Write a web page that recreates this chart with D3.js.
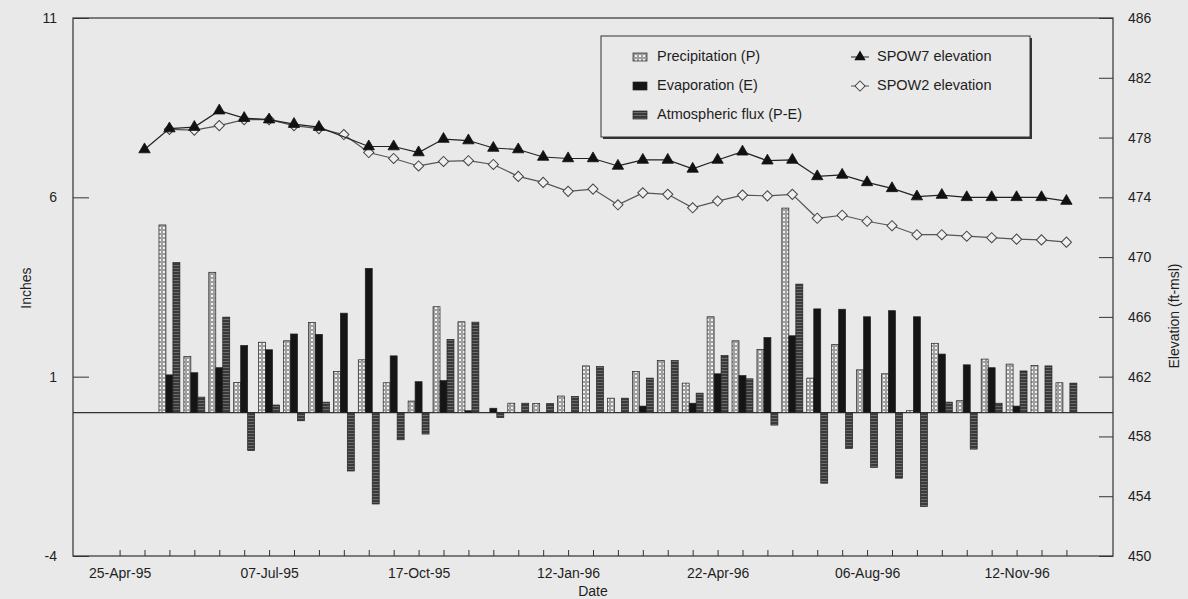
<!DOCTYPE html>
<html>
<head>
<meta charset="utf-8">
<script src="https://cdn.jsdelivr.net/npm/d3@7"></script>
<style>
  html, body { margin: 0; padding: 0; background: #e9e9e9; }
  svg { display: block; }
  text { font-family: "Liberation Sans", Arial, sans-serif; fill: #1e1e1e; }
</style>
</head>
<body>
<svg id="chart" width="1188" height="599"></svg>
<script>
// ---------------- data ----------------
const categories = [
  "25-Apr-95","","","","","",
  "07-Jul-95","","","","","",
  "17-Oct-95","","","","","",
  "12-Jan-96","","","","","",
  "22-Apr-96","","","","","",
  "06-Aug-96","","","","","",
  "12-Nov-96","",""
];
const precipitation = [null, 0, 5.23, 1.56, 3.91, 0.84, 1.96, 2.0, 2.51, 1.14, 1.47, 0.83, 0.32, 2.95, 2.53, 0, 0.26, 0.25, 0.46, 1.30, 0.40, 1.14, 1.45, 0.82, 2.67, 2.0, 1.76, 5.70, 0.96, 1.90, 1.19, 1.08, 0.05, 1.93, 0.33, 1.49, 1.35, 1.31, 0.83];
const evaporation   = [null, 0, 1.05, 1.11, 1.25, 1.87, 1.75, 2.19, 2.18, 2.77, 4.02, 1.58, 0.86, 0.89, 0.05, 0.12, 0, 0, 0, 0, 0, 0.18, 0, 0.26, 1.08, 1.03, 2.09, 2.14, 2.89, 2.88, 2.67, 2.84, 2.67, 1.63, 1.33, 1.25, 0.18, 0, 0];
const atmosphericFlux = [null, 0, 4.18, 0.43, 2.66, -1.06, 0.21, -0.23, 0.29, -1.63, -2.55, -0.76, -0.6, 2.04, 2.52, -0.14, 0.26, 0.25, 0.45, 1.28, 0.40, 0.96, 1.45, 0.54, 1.59, 0.94, -0.35, 3.58, -1.97, -1.0, -1.53, -1.83, -2.62, 0.29, -1.02, 0.26, 1.16, 1.30, 0.82];
const spow7 = [null, 477.2, 478.6, 478.7, 479.8, 479.3, 479.2, 478.9, 478.7, null, 477.4, 477.4, 477.0, 477.9, 477.8, 477.3, 477.2, 476.7, 476.6, 476.6, 476.1, 476.5, 476.5, 475.9, 476.5, 477.05, 476.45, 476.5, 475.4, 475.5, 475.0, 474.6, 474.05, 474.15, 474.0, 474.0, 474.0, 474.0, 473.75];
const spow2 = [null, null, 478.55, 478.5, 478.8, 479.2, 479.2, 478.8, 478.6, 478.2, 477.0, 476.6, 476.1, 476.4, 476.45, 476.2, 475.4, 475.0, 474.4, 474.55, 473.5, 474.3, 474.2, 473.3, 473.75, 474.15, 474.1, 474.2, 472.6, 472.8, 472.4, 472.1, 471.5, 471.5, 471.4, 471.3, 471.2, 471.15, 471.0];
const inchTicks = [-4, 1, 6, 11];
const elevationTicks = [450, 454, 458, 462, 466, 470, 474, 478, 482, 486];
const barSeries = ["Precipitation (P)", "Evaporation (E)", "Atmospheric flux (P-E)"];
const lineSeries = ["SPOW7 elevation", "SPOW2 elevation"];

// ---------------- layout ----------------
const L = 73, R = 1113, T = 18, B = 556;
const svg = d3.select("#chart");

const defs = svg.append("defs");
const pP = defs.append("pattern").attr("id", "patP").attr("patternUnits", "userSpaceOnUse")
  .attr("width", 4).attr("height", 4);
pP.append("rect").attr("width", 4).attr("height", 4).attr("fill", "#f2f2f2");
pP.append("circle").attr("cx", 2).attr("cy", 2).attr("r", 1.3).attr("fill", "none")
  .attr("stroke", "#5a5a5a").attr("stroke-width", 0.9);
const pF = defs.append("pattern").attr("id", "patF").attr("patternUnits", "userSpaceOnUse")
  .attr("width", 4).attr("height", 3);
pF.append("rect").attr("width", 4).attr("height", 3).attr("fill", "#3a3a3a");
pF.append("rect").attr("y", 1).attr("width", 4).attr("height", 1).attr("fill", "#6c6c6c");

const idx = d3.range(categories.length);
const x = d3.scalePoint().domain(idx).range([L, R]).padding(1.87);
const step = x.step();
const sub = d3.scaleBand().domain([0, 1, 2]).range([-step * 0.42, step * 0.42]);
const yL = d3.scaleLinear().domain([-4, 11]).range([B, T]);
const yR = d3.scaleLinear().domain([450, 486]).range([B, T]);

// frame
svg.append("rect").attr("x", L).attr("y", T).attr("width", R - L).attr("height", B - T)
  .attr("fill", "none").attr("stroke", "#333").attr("stroke-width", 1.2);

// axes
const axB = svg.append("g").attr("transform", `translate(0,${B})`)
  .call(d3.axisBottom(x).tickSizeInner(-6).tickSizeOuter(0).tickPadding(12)
    .tickFormat(i => categories[i]));
const axLft = svg.append("g").attr("transform", `translate(${L},0)`)
  .call(d3.axisLeft(yL).tickValues(inchTicks).tickSizeInner(-16).tickSizeOuter(0).tickPadding(16)
    .tickFormat(d => String(d)));
const axRgt = svg.append("g").attr("transform", `translate(${R},0)`)
  .call(d3.axisRight(yR).tickValues(elevationTicks).tickSizeInner(-14).tickSizeOuter(0).tickPadding(15)
    .tickFormat(d => String(d)));
[axB, axLft, axRgt].forEach(g => {
  g.select(".domain").remove();
  g.selectAll(".tick line").attr("stroke", "#333");
  g.selectAll(".tick text").style("font-family", "'Liberation Sans', Arial, sans-serif")
    .style("font-size", "14px").attr("fill", "#1e1e1e");
});

// zero line
svg.append("line").attr("x1", L).attr("x2", R).attr("y1", yL(0)).attr("y2", yL(0))
  .attr("stroke", "#333").attr("stroke-width", 1.3);

// bars
const barDefs = [
  { vals: precipitation, fill: "url(#patP)" },
  { vals: evaporation, fill: "#151515" },
  { vals: atmosphericFlux, fill: "url(#patF)" }
];
barDefs.forEach((s, k) => {
  svg.append("g").selectAll("rect")
    .data(idx.filter(i => s.vals[i] != null && s.vals[i] !== 0))
    .join("rect")
    .attr("x", i => x(i) + sub(k))
    .attr("width", sub.bandwidth())
    .attr("y", i => yL(Math.max(0, s.vals[i])))
    .attr("height", i => Math.abs(yL(s.vals[i]) - yL(0)))
    .attr("fill", s.fill)
    .attr("stroke", "#222").attr("stroke-width", 0.7);
});

// lines
function drawLine(vals, color, width) {
  const pts = idx.filter(i => vals[i] != null);
  svg.append("path").datum(pts)
    .attr("d", d3.line().x(i => x(i)).y(i => yR(vals[i])))
    .attr("fill", "none").attr("stroke", color).attr("stroke-width", width);
  return pts;
}
const p2 = drawLine(spow2, "#555", 1.2);
svg.append("g").selectAll("path").data(p2).join("path")
  .attr("d", d3.symbol(d3.symbolSquare, 52)())
  .attr("transform", i => `translate(${x(i)},${yR(spow2[i])}) rotate(45)`)
  .attr("fill", "#efefef").attr("stroke", "#444").attr("stroke-width", 1);
const p7 = drawLine(spow7, "#222", 1.2);
svg.append("g").selectAll("path").data(p7).join("path")
  .attr("d", d3.symbol(d3.symbolTriangle, 56)())
  .attr("transform", i => `translate(${x(i)},${yR(spow7[i])})`)
  .attr("fill", "#111").attr("stroke", "#111").attr("stroke-width", 0.8);

// axis titles
svg.append("text").attr("transform", "translate(27,288) rotate(-90)")
  .attr("text-anchor", "middle").attr("dominant-baseline", "middle")
  .style("font-size", "14px").text("Inches");
svg.append("text").attr("transform", "translate(1175,316) rotate(-90)")
  .attr("text-anchor", "middle").attr("dominant-baseline", "middle")
  .style("font-size", "14px").text("Elevation (ft-msl)");
svg.append("text").attr("x", (L + R) / 2).attr("y", 592)
  .attr("text-anchor", "middle").attr("dominant-baseline", "middle")
  .style("font-size", "14px").text("Date");

// legend
const lg = svg.append("g");
lg.append("rect").attr("x", 603).attr("y", 38).attr("width", 429).attr("height", 101).attr("fill", "#333");
lg.append("rect").attr("x", 601).attr("y", 36).attr("width", 429).attr("height", 101)
  .attr("fill", "#e9e9e9").attr("stroke", "#333").attr("stroke-width", 1);
const rows = [57, 86, 115];
barSeries.forEach((name, k) => {
  lg.append("rect").attr("x", 633).attr("y", rows[k] - 4).attr("width", 14).attr("height", 8)
    .attr("fill", barDefs[k].fill).attr("stroke", "#222").attr("stroke-width", 0.7);
  lg.append("text").attr("x", 657).attr("y", rows[k]).attr("dominant-baseline", "middle")
    .style("font-size", "14.5px").text(name);
});
lineSeries.forEach((name, k) => {
  const cy = rows[k];
  lg.append("line").attr("x1", 851).attr("x2", 869).attr("y1", cy).attr("y2", cy)
    .attr("stroke", k === 0 ? "#222" : "#555").attr("stroke-width", 1);
  if (k === 0) {
    lg.append("path").attr("d", d3.symbol(d3.symbolTriangle, 56)())
      .attr("transform", `translate(860,${cy})`).attr("fill", "#111");
  } else {
    lg.append("path").attr("d", d3.symbol(d3.symbolSquare, 52)())
      .attr("transform", `translate(860,${cy}) rotate(45)`)
      .attr("fill", "#efefef").attr("stroke", "#444");
  }
  lg.append("text").attr("x", 877).attr("y", cy).attr("dominant-baseline", "middle")
    .style("font-size", "14.5px").text(name);
});
</script>
</body>
</html>
